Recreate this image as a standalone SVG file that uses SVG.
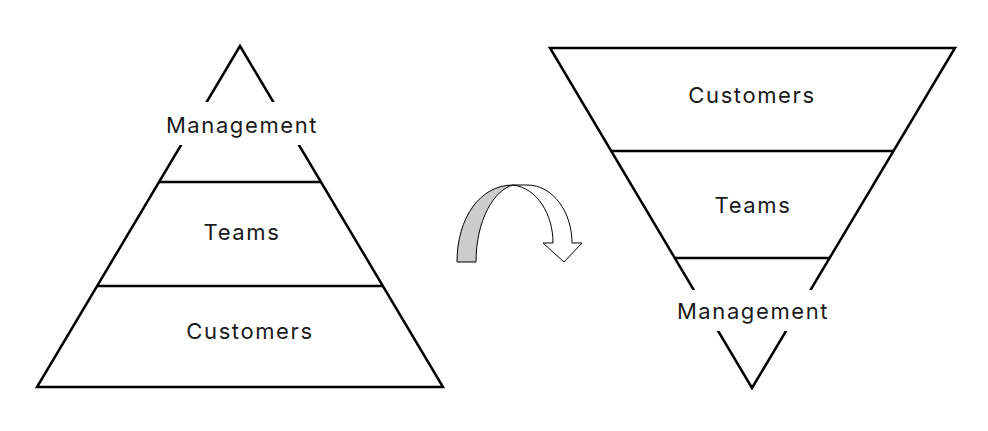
<svg xmlns="http://www.w3.org/2000/svg" width="988" height="431" viewBox="0 0 988 431">
<style>
.shape{fill:none;stroke:#000;stroke-width:2.5;stroke-linejoin:miter}
.lbl{font-family:Inter,"Open Sans",sans-serif;font-size:22px;letter-spacing:1.6px;fill:#1a1a1a;text-anchor:middle}
.bg{fill:#fff;stroke:none}
.arrow{stroke:#000;stroke-width:1;stroke-linejoin:miter}
</style>
<rect width="988" height="431" fill="#fff"/>
<g id="pyramid">
  <polygon class="shape" points="240,46 443,387 37,387"/>
  <line class="shape" x1="159" y1="182" x2="321" y2="182"/>
  <line class="shape" x1="97" y1="286" x2="383" y2="286"/>
  <rect class="bg" x="160" y="102" width="162" height="43"/>
  <text class="lbl" x="242" y="133">Management</text>
  <text class="lbl" x="242" y="240">Teams</text>
  <text class="lbl" x="250" y="339">Customers</text>
</g>
<g id="inverted-pyramid">
  <polygon class="shape" points="550,48 955,48 752,388"/>
  <line class="shape" x1="611" y1="151" x2="893" y2="151"/>
  <line class="shape" x1="675" y1="258" x2="830" y2="258"/>
  <rect class="bg" x="668" y="290" width="168" height="41"/>
  <text class="lbl" x="752" y="103">Customers</text>
  <text class="lbl" x="753" y="213">Teams</text>
  <text class="lbl" x="753" y="319">Management</text>
</g>
<g id="connectors">
  <path class="arrow" fill="#fff" d="M513,185 L527,185 C553,185 572,212 572,243 L582,243 L564,262 L543,243 L553,243 C553,214 537,188 513,185 Z"/>
  <path class="arrow" fill="#cccccc" d="M457,262 C457,218 480,185 513,185 C494,190 476,220 476,262 Z"/>
</g>
</svg>
